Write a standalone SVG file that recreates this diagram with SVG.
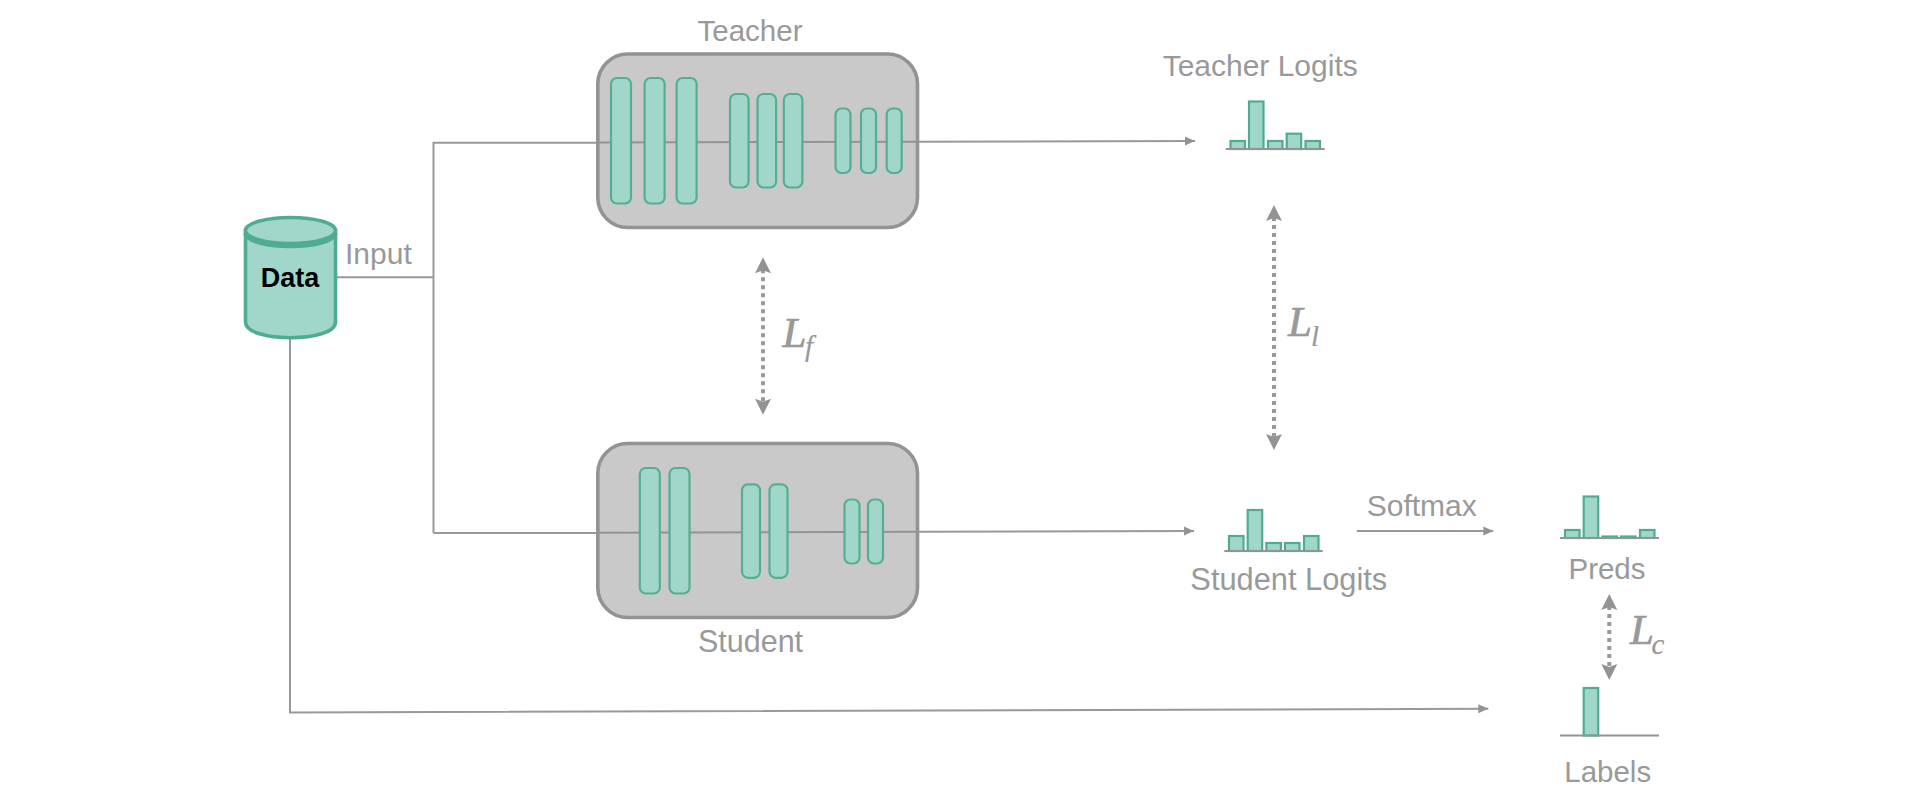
<svg xmlns="http://www.w3.org/2000/svg" width="1920" height="800" viewBox="0 0 1920 800">
<style>
text{font-family:"Liberation Sans",Arial,sans-serif;font-size:29.5px;fill:#999}
.m{text-anchor:middle}
.math{font-family:"Liberation Serif","Times New Roman",serif;font-style:italic;font-size:43px;stroke:#999;stroke-width:.7}
.sub{font-size:29px;stroke-width:.2}
.box{fill:#c9c9c9;stroke:#939393;stroke-width:3.6}
.layer{fill:#a0d7ca;stroke:#55ae94;stroke-width:2.2}
.bar{fill:#a0d7ca;stroke:#4fac90;stroke-width:2.2}
.axis{stroke:#939393;stroke-width:2;fill:none}
.line{stroke:#999;stroke-width:2;fill:none}
.arrow{marker-end:url(#tip)}
.dots{stroke:#999;stroke-width:4;fill:none;stroke-dasharray:4 4;marker-start:url(#big);marker-end:url(#big)}
</style>
<defs>
<marker id="tip" markerUnits="userSpaceOnUse" markerWidth="10" markerHeight="10" refX="10" refY="5" orient="auto"><path d="M0,0.5 L10,5 L0,9.5 z" fill="#939393"/></marker>
<marker id="big" markerUnits="userSpaceOnUse" markerWidth="17" markerHeight="17" refX="4" refY="8.5" orient="auto-start-reverse"><path d="M0,0.5 L16,8.5 L0,16.5 L3,8.5 z" fill="#939393"/></marker>
</defs>

<g id="connectors">
<path class="line" d="M337,277.3 H433.5"/>
<path class="line" d="M433.5,533 V142.8 H597"/>
<path class="line" d="M433.5,533 H597"/>
<path class="line arrow" d="M919,141.7 L1195,141"/>
<path class="line arrow" d="M919,531.7 L1194,531"/>
<path class="line arrow" d="M1356.7,531 H1493.3"/>
<path class="line arrow" d="M290,338 V712.5 L1488.3,708.7"/>
<path class="dots" d="M763,269.3 V402.7"/>
<path class="dots" d="M1274,217 V438"/>
<path class="dots" d="M1609.3,606 V668"/>
</g>

<g id="data">
<path d="M245.5,231 V322 C245.5,343 335.5,343 335.5,322 V231 z" fill="#a0d7ca" stroke="#4fac90" stroke-width="3.6"/>
<ellipse cx="290.5" cy="230.5" rx="45" ry="13" fill="#a0d7ca" stroke="#4fac90" stroke-width="3.6"/>
<path d="M245.5,233 C250,250 331,250 335.5,233" fill="none" stroke="#4fac90" stroke-width="5"/>
<text x="290" y="287" class="m" style="font-weight:700;font-size:27px;fill:#000">Data</text>
</g>
<text id="input-label" x="345" y="264" style="font-size:30px">Input</text>

<g id="teacher">
<rect class="box" x="597.8" y="54" width="319.7" height="173.5" rx="30"/>
<path class="line" d="M597,142.5 L919,141.7" style="stroke:#939393"/>
<rect class="layer" x="611" y="78" width="20" height="125.5" rx="6"/>
<rect class="layer" x="644.6" y="78" width="20" height="125.5" rx="6"/>
<rect class="layer" x="676.6" y="78" width="20" height="125.5" rx="6"/>
<rect class="layer" x="730" y="94" width="18.6" height="93.5" rx="6"/>
<rect class="layer" x="757.5" y="94" width="18.6" height="93.5" rx="6"/>
<rect class="layer" x="783.8" y="94" width="18.6" height="93.5" rx="6"/>
<rect class="layer" x="835.5" y="108.5" width="15" height="64.5" rx="6"/>
<rect class="layer" x="861" y="108.5" width="15" height="64.5" rx="6"/>
<rect class="layer" x="886.7" y="108.5" width="15" height="64.5" rx="6"/>
<text x="750" y="40.7" class="m">Teacher</text>
</g>

<g id="student">
<rect class="box" x="597.8" y="443.5" width="319.7" height="174" rx="30"/>
<path class="line" d="M597,532.8 L919,531.7" style="stroke:#939393"/>
<rect class="layer" x="639.8" y="468" width="20" height="125.5" rx="6"/>
<rect class="layer" x="669.5" y="468" width="20" height="125.5" rx="6"/>
<rect class="layer" x="742" y="484.3" width="18" height="93.5" rx="6"/>
<rect class="layer" x="769.5" y="484.3" width="18" height="93.5" rx="6"/>
<rect class="layer" x="844.5" y="499.5" width="15" height="64" rx="6"/>
<rect class="layer" x="868" y="499.5" width="15" height="64" rx="6"/>
<text x="750.5" y="651.7" class="m" style="font-size:30.5px">Student</text>
</g>

<g id="teacher-logits">
<rect class="bar" x="1230.5" y="141" width="14.5" height="8"/>
<rect class="bar" x="1249" y="101.5" width="14.5" height="47.5"/>
<rect class="bar" x="1268" y="141" width="14.5" height="8"/>
<rect class="bar" x="1286.7" y="133.7" width="14.5" height="15.3"/>
<rect class="bar" x="1305.5" y="141" width="14.5" height="8"/>
<path class="axis" d="M1225.7,149 H1324.7"/>
<text x="1260.2" y="75.7" class="m" style="font-size:30px">Teacher Logits</text>
</g>

<g id="student-logits">
<rect class="bar" x="1229" y="536" width="14.5" height="15"/>
<rect class="bar" x="1247.7" y="510" width="14.5" height="41"/>
<rect class="bar" x="1266.4" y="543" width="14.5" height="8"/>
<rect class="bar" x="1285" y="543" width="14.5" height="8"/>
<rect class="bar" x="1304" y="536" width="14.5" height="15"/>
<path class="axis" d="M1224.3,551 H1322.7"/>
<text x="1288.8" y="590" class="m" style="font-size:30.8px">Student Logits</text>
</g>

<text id="softmax-label" x="1366.7" y="516" style="font-size:30px">Softmax</text>

<g id="preds">
<rect class="bar" x="1565" y="530" width="14.5" height="8"/>
<rect class="bar" x="1583.7" y="496.5" width="14.5" height="41.5"/>
<rect class="bar" x="1602.4" y="536.5" width="14.5" height="1.5"/>
<rect class="bar" x="1621" y="536.5" width="14.5" height="1.5"/>
<rect class="bar" x="1640" y="530" width="14.5" height="8"/>
<path class="axis" d="M1560,538 H1659"/>
<text x="1607" y="579.3" class="m">Preds</text>
</g>

<g id="labels">
<rect class="bar" x="1583.7" y="688" width="14.5" height="47.5"/>
<path class="axis" d="M1560,735.5 H1659"/>
<text x="1607.7" y="782" class="m">Labels</text>
</g>

<text class="math" x="782.5" y="347.3">L<tspan class="sub" x="805" y="356">f</tspan></text>
<text class="math" x="1288" y="335.7">L<tspan class="sub" x="1311" y="345.7">l</tspan></text>
<text class="math" x="1630" y="644">L<tspan class="sub" x="1651.5" y="654">c</tspan></text>
</svg>
